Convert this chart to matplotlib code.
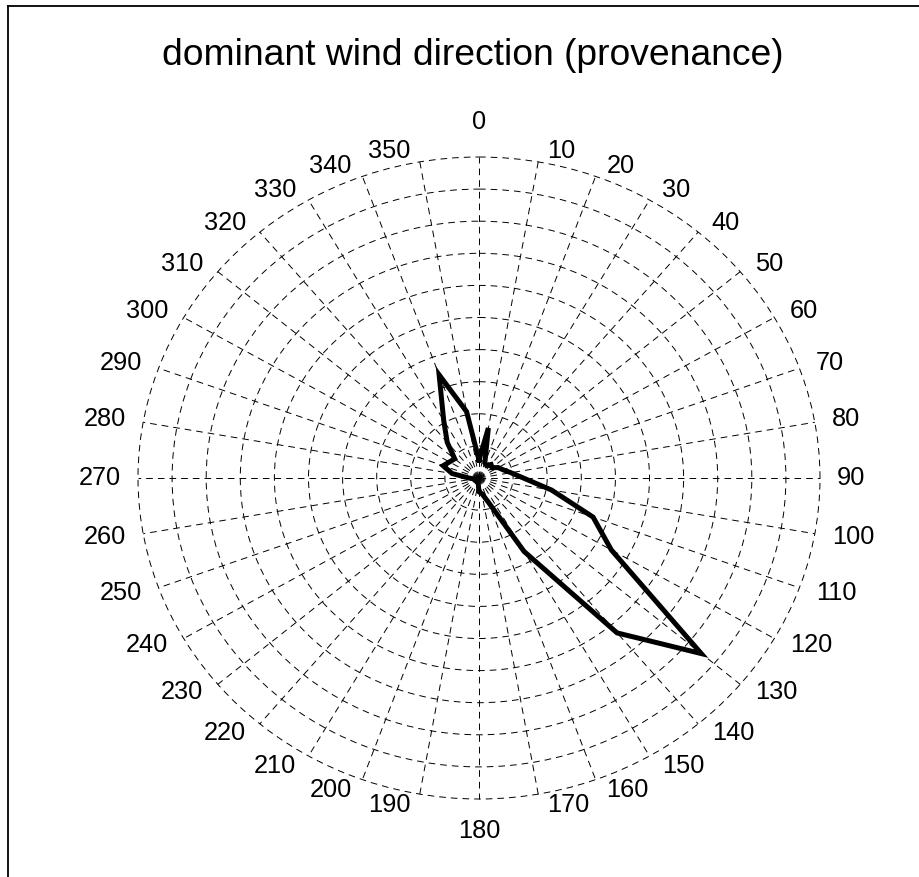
import numpy as np
import matplotlib
matplotlib.use("Agg")
import matplotlib.pyplot as plt
from matplotlib.lines import Line2D

plt.rcParams['font.family'] = ['Liberation Sans', 'DejaVu Sans']
plt.rcParams['lines.scale_dashes'] = False

# direction bins (degrees, compass: 0 = North, clockwise)
directions = [0, 10, 20, 30, 40, 50, 60, 70, 80, 90, 100, 110,
              120, 130, 140, 150, 160, 170, 180, 190, 200, 210, 220, 230,
              240, 250, 260, 270, 280, 290, 300, 310, 320, 330, 340, 350]
# frequency per direction (ring units, outer ring = 10)
frequency = [0.56, 1.58, 0.50, 0.45, 0.55, 0.50, 0.65, 0.75, 0.95, 1.30, 2.16, 3.56,
             4.48, 8.51, 6.30, 2.64, 0.80, 0.50, 0.43, 0.15, 0.14, 0.13, 0.13, 0.13,
             0.14, 0.14, 0.16, 0.30, 0.80, 1.12, 1.00, 0.93, 1.45, 2.07, 3.42, 2.10]
tick_labels = [str(d) for d in directions]
rings = [1, 2, 3, 4, 5, 6, 7, 8, 9, 10]
title = "dominant wind direction (provenance)"

W, H = 920, 877
fig = plt.figure(figsize=(W / 100, H / 100), dpi=100)

cx, cy, Rx, Ry = 479, 478, 341, 321
ax = fig.add_axes([(cx - Rx) / W, (H - cy - Ry) / H, 2 * Rx / W, 2 * Ry / H],
                  projection='polar')
ax.set_aspect('auto')
ax.set_theta_zero_location('N')
ax.set_theta_direction(-1)
ax.set_ylim(0, 10)

ax.set_xticks(np.deg2rad(directions))
ax.set_xticklabels([])
ax.set_yticks(rings)
ax.set_yticklabels([])
ax.tick_params(length=0)
ax.spines['polar'].set_visible(False)
ax.grid(True, color='black', linewidth=0.7, linestyle=(0, (4.8, 3.6)))
ax.set_axisbelow(True)
for gl in ax.yaxis.get_gridlines() + ax.xaxis.get_gridlines():
    gl.set_clip_on(False)

th = np.deg2rad(directions + [directions[0]])
rr = frequency + [frequency[0]]
ax.plot(th, rr, color='black', linewidth=3.6, solid_joinstyle='miter', zorder=5)

# direction labels: anchored just outside the outer ring, inner edge toward centre
px2pt = 72 / 100
for d, lab in zip(directions, tick_labels):
    t = np.deg2rad(d)
    if d == 0:
        ax.annotate(lab, xy=(t, 10.28), xytext=(0, 26 * px2pt), textcoords='offset points',
                    ha='center', va='center', fontsize=18.3, annotation_clip=False)
    elif d == 180:
        ax.annotate(lab, xy=(t, 10.28), xytext=(0, -22.6 * px2pt), textcoords='offset points',
                    ha='center', va='center', fontsize=18.3, annotation_clip=False)
    else:
        sx = 1 if d < 180 else -1
        sy = np.sign(np.cos(t)) if abs(np.cos(t)) > 1e-6 else 0
        ax.annotate(lab, xy=(t, 10.28), xytext=(sx * 7.5 * px2pt, sy * 2 * px2pt),
                    textcoords='offset points', ha='left' if sx > 0 else 'right',
                    va='center', fontsize=18.3, annotation_clip=False)

fig.text(473 / W, 1 - 65 / H, title, ha='center', va='baseline', fontsize=26.8)

# figure frame (top and left edges visible)
fig.add_artist(Line2D([8 / W, 8 / W], [0, 1 - 6 / H], transform=fig.transFigure,
                      color='black', linewidth=1.3))
fig.add_artist(Line2D([8 / W, 1], [1 - 6 / H, 1 - 6 / H], transform=fig.transFigure,
                      color='black', linewidth=1.3))

fig.savefig('out.png', dpi=100)
